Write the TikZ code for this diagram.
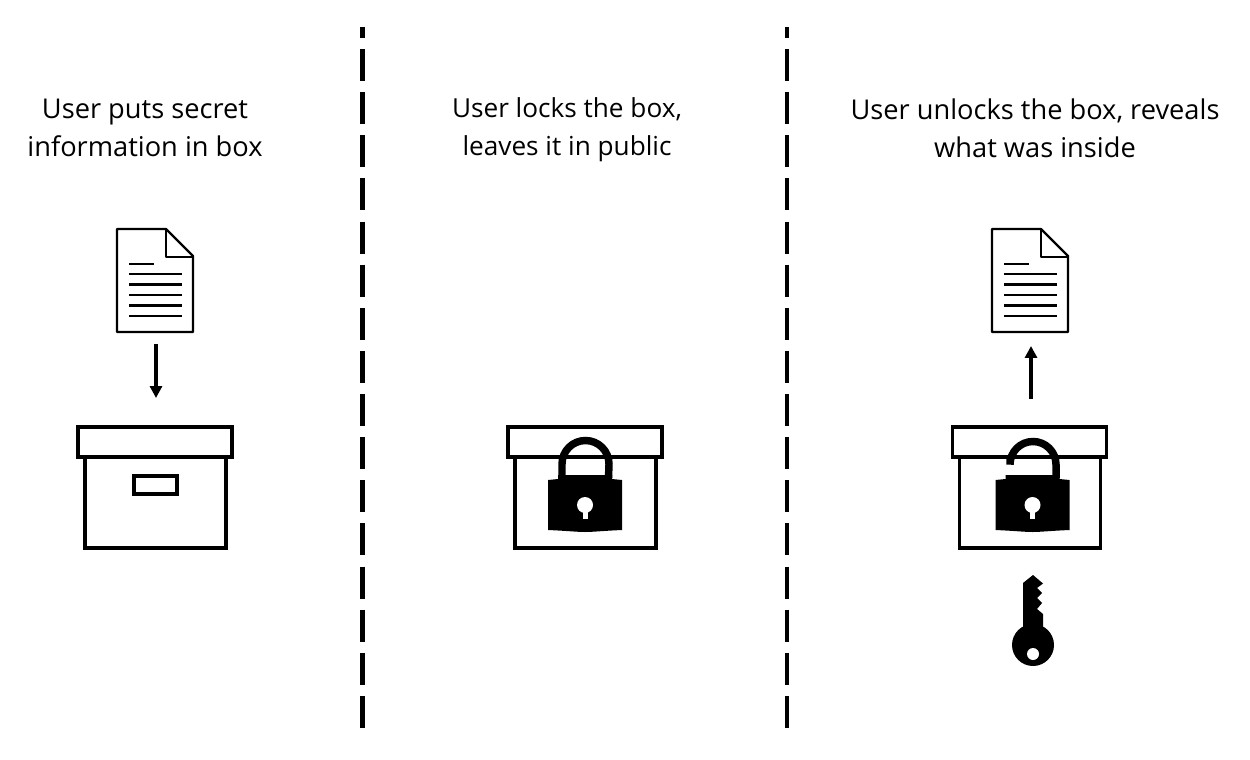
\documentclass[tikz,border=0pt]{standalone}
\usepackage{fontspec}
\setmainfont{Open Sans}
\usetikzlibrary{arrows.meta}
\tikzset{
    docicon/.pic={
        \draw[line width=2.4*0.5669pt, line join=round] (0,0) -- (49,0) -- (76,27) -- (76,103) -- (0,103) -- cycle;
        \draw[line width=2.4*0.5669pt, line join=round] (49,0) -- (49,28) -- (76,28);
        \draw[line width=2.6*0.5669pt] (12,35) -- (37,35);
        \foreach \y in {45,55.5,66,76.5,87}
            \draw[line width=2.6*0.5669pt] (12,\y) -- (65,\y);
    },
    boxicon/.pic={
        \draw[line width=3.6*0.5669pt] (0,0) rectangle (154,30);
        \draw[line width=3.6*0.5669pt] (7,30) -- (7,121) -- (148,121) -- (148,30);
    },
    lockbody/.pic={
        \fill (-37,0) -- (-27,-1) -- (-27,-5) -- (27,-5) -- (27,-1) -- (37,0) -- (37,50)
            .. controls (15,51) and (8,52) .. (0,52) .. controls (-8,52) and (-15,51) .. (-37,50) -- cycle;
        \fill[white] (0,25) circle (8);
        \fill[white] (-2.5,28) rectangle (2.5,39);
    },
}
\begin{document}
\begin{tikzpicture}[x=0.02cm,y=-0.02cm]
        \tikzstyle{every node}=[font=\fontsize{15.5pt}{21.5pt}\selectfont, align=center]
        \tikzstyle{divider} = [line width=4.5*0.5669pt, dash pattern=on 0.64cm off 0.2226cm, dash phase=0.42cm]
        \tikzstyle{arrow} = [line width=4*0.5669pt, -{Triangle[length=6.8pt,width=6.8pt]}]
        \tikzstyle{shackle} = [line width=7.5*0.5669pt]

        \useasboundingbox (0,0) rectangle (1250,760);

        % dividers
        \coordinate (d1) at (362.5,27);
        \coordinate (d2) at (362.5,728);
        \coordinate (d3) at (787,27);
        \coordinate (d4) at (787,728);
        \draw[divider] (d1) -- (d2);
        \draw[divider] (d3) -- (d4);

        % captions
        \node(t1) at (145,128) {User puts secret\\information in box};
        \node[font=\fontsize{14.9pt}{21.5pt}\selectfont](t2) at (567,130) {User locks the box,\\leaves it in public};
        \node(t3) at (1035,128) {User unlocks the box, reveals\\what was inside};

        % first panel
        \pic at (117,229) {docicon};
        \pic at (78,427) {boxicon};
        \draw[line width=3.6*0.5669pt] (134,476) rectangle (177,494);
        \coordinate (a1) at (156,344);
        \coordinate (a2) at (156,398);
        \draw[arrow] (a1) -- (a2);

        % second panel
        \pic at (508,427) {boxicon};
        \draw[shackle] (562,478) -- (562,464) arc[start angle=180, end angle=360, radius=23.5] -- (608.5,478);
        \pic at (585,480) {lockbody};

        % third panel
        \pic at (992,229) {docicon};
        \pic at (952.5,427) {boxicon};
        \draw[shackle] (1010,458) -- (1010,464.5) arc[start angle=180, end angle=360, radius=23] -- (1056,478);
        \pic at (1032.5,480) {lockbody};
        \coordinate (a3) at (1031,399);
        \coordinate (a4) at (1031,346);
        \draw[arrow] (a3) -- (a4);

        % key
        \fill (1023,583) -- (1033,575) -- (1043,583.5) -- (1037,588) -- (1042,593) -- (1037,598) -- (1042,603)
            -- (1037,609) -- (1043,614) -- (1043,630) -- (1023,630) -- cycle;
        \fill (1033,645) circle (21);
        \fill[white] (1033,654) circle (6);
\end{tikzpicture}
\end{document}
